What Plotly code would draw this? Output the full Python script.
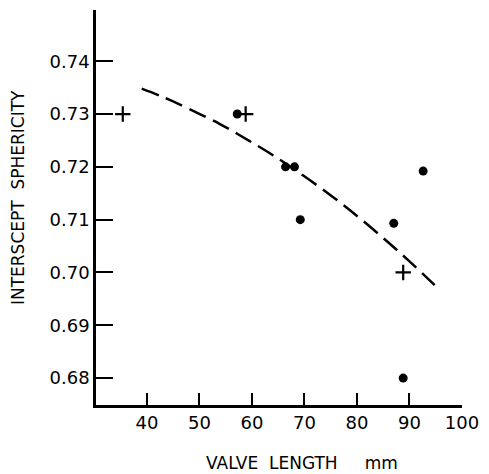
import plotly.graph_objects as go

# Data
dots_x = [57.2, 66.4, 68.1, 69.2, 87.0, 92.6, 88.8]
dots_y = [0.730, 0.720, 0.720, 0.710, 0.7093, 0.7192, 0.680]
plus_x = [35.4, 58.8, 88.8]
plus_y = [0.730, 0.730, 0.700]
curve_x = [39.0, 43.1, 48.2, 53.9, 59.0, 64.0, 69.7, 75.4, 80.5, 85.6, 90.0, 94.8]
curve_y = [0.7348, 0.7332, 0.7309, 0.7281, 0.7252, 0.7222, 0.7184, 0.7143,
           0.7103, 0.7060, 0.7021, 0.6976]

x_ticks = [40, 50, 60, 70, 80, 90, 100]
y_ticks = [0.68, 0.69, 0.70, 0.71, 0.72, 0.73, 0.74]
y_ticklabels = ["0.68", "0.69", "0.70", "0.71", "0.72", "0.73", "0.74"]

FONT = "DejaVu Sans"

fig = go.Figure()
fig.add_trace(go.Scatter(x=curve_x, y=curve_y, mode="lines",
                         line=dict(color="black", width=2.5, dash="18px,8px", shape="spline",
                                   smoothing=1.0),
                         showlegend=False, hoverinfo="skip"))
fig.add_trace(go.Scatter(x=dots_x, y=dots_y, mode="markers",
                         marker=dict(symbol="circle", size=9, color="black"),
                         showlegend=False))
fig.add_trace(go.Scatter(x=plus_x, y=plus_y, mode="markers",
                         marker=dict(symbol="cross-thin", size=11, color="black",
                                     line=dict(color="black", width=2.2)),
                         showlegend=False))

fig.update_layout(
    width=481, height=466,
    margin=dict(l=88, r=27, t=2, b=69),
    paper_bgcolor="white", plot_bgcolor="white",
    font=dict(family=FONT, size=18, color="black"),
    xaxis=dict(range=[30.3, 100], tickvals=x_ticks, ticks="inside", ticklen=12,
               tickwidth=2, tickcolor="black", showline=True, linecolor="black",
               linewidth=2.5, showgrid=False, zeroline=False, automargin=False,
               tickfont=dict(family=FONT, size=18)),
    yaxis=dict(range=[0.6749, 0.7497], tickvals=y_ticks, ticktext=y_ticklabels,
               ticks="inside", ticklen=17, tickwidth=2, tickcolor="black",
               showline=True, linecolor="black", linewidth=2.5, showgrid=False,
               zeroline=False, automargin=False, tickfont=dict(family=FONT, size=18)),
    annotations=[
        dict(text="INTERSCEPT  SPHERICITY", xref="paper", yref="paper",
             x=-0.213, y=0.524, textangle=-90, showarrow=False,
             font=dict(family=FONT, size=17), xanchor="center", yanchor="middle"),
        dict(text="VALVE  LENGTH     mm", xref="paper", yref="paper",
             x=0.563, y=-0.147, showarrow=False,
             font=dict(family=FONT, size=17), xanchor="center", yanchor="middle"),
    ],
)

fig.write_html("out.html")
